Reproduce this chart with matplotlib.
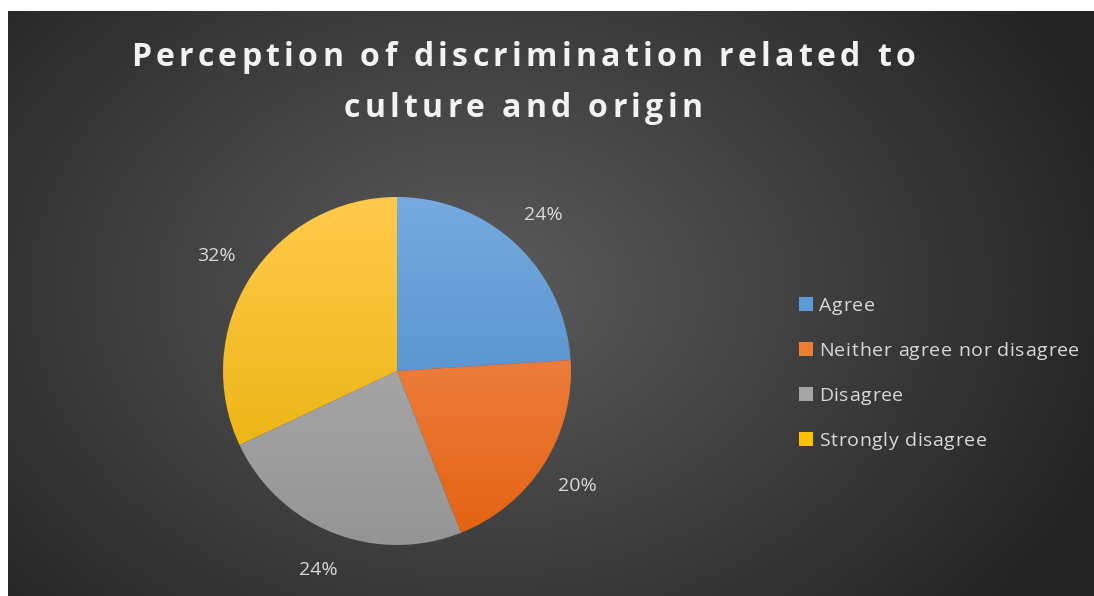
import numpy as np
import matplotlib
matplotlib.use("Agg")
import matplotlib.pyplot as plt
from matplotlib.patches import Rectangle
from matplotlib.colors import LinearSegmentedColormap, to_rgb
from matplotlib.font_manager import FontProperties, findfont, get_font
from matplotlib.ft2font import LoadFlags

categories = ["Agree", "Neither agree nor disagree", "Disagree", "Strongly disagree"]
values = [24, 20, 24, 32]
labels = ["24%", "20%", "24%", "32%"]
title_lines = ["Perception of discrimination related to", "culture and origin"]

colors_top = ["#75abdf", "#f39563", "#b4b4b4", "#ffca4c"]
colors_bot = ["#447fc0", "#e4610f", "#959595", "#e6ad00"]
colors_legend = ["#5b9bd5", "#ed7d31", "#a5a5a5", "#ffc000"]

W, H = 1094, 596
DPI = 100
fig = plt.figure(figsize=(W / DPI, H / DPI), dpi=DPI)
fig.patch.set_facecolor("white")


def advances(s, family, size, weight="normal"):
    fp = FontProperties(family=family, size=size, weight=weight)
    font = get_font(findfont(fp))
    font.set_size(size, DPI)
    return [font.load_char(ord(ch), flags=LoadFlags.NO_HINTING).linearHoriAdvance / 65536
            for ch in s]


def spaced_text(x_px, base_px, s, spacing_px, family, size, weight="normal",
                ha="left", color="white"):
    """Draw text char by char with extra letter spacing; pixel coords from top-left."""
    adv = advances(s, family, size, weight)
    total = sum(adv) + spacing_px * (len(s) - 1)
    x = x_px - total / 2 if ha == "center" else x_px
    for ch, a in zip(s, adv):
        if ch != " ":
            fig.text(x / W, 1 - base_px / H, ch, ha="left", va="baseline",
                     family=family, fontsize=size, fontweight=weight, color=color)
        x += a + spacing_px
    return total


# background panel with radial gradient
x0, y0 = 8, 11
bg = fig.add_axes([x0 / W, 0, (W - x0) / W, (H - y0) / H])
bg.set_axis_off()
nx, ny = 600, 330
xs = np.linspace(x0, W, nx)
ys = np.linspace(y0, H, ny)
X, Y = np.meshgrid(xs, ys)
cx, cy = 480, 290
d = np.sqrt(((X - cx) / 700) ** 2 + ((Y - cy) / 520) ** 2)
d = np.clip(d / 0.95, 0, 1)
c_in = np.array(to_rgb("#5c5c5c"))
c_out = np.array(to_rgb("#242424"))
img = c_in[None, None, :] * (1 - d[..., None]) + c_out[None, None, :] * d[..., None]
bg.imshow(img, extent=(0, 1, 0, 1), aspect="auto", origin="upper")
bg.set_xlim(0, 1)
bg.set_ylim(0, 1)

# pie
pcx, pcy, R = 397, 371, 174
S = 1.45
size = 2 * R * S
ax = fig.add_axes([(pcx - size / 2) / W, (H - pcy - size / 2) / H, size / W, size / H])
ax.set_axis_off()
wedges, texts = ax.pie(values, startangle=90, counterclock=False, radius=1,
                       labels=labels, labeldistance=1.23,
                       textprops=dict(color="#d9d9d9", fontsize=14, family="Open Sans"),
                       wedgeprops=dict(linewidth=0))
ax.set_xlim(-S, S)
ax.set_ylim(-S, S)
ax.set_aspect("equal")
grad = np.linspace(0, 1, 256)[:, None]
for w, ct, cb in zip(wedges, colors_top, colors_bot):
    cmap = LinearSegmentedColormap.from_list("g", [ct, cb])
    w.set_facecolor("none")
    im = ax.imshow(grad, cmap=cmap, extent=(-1, 1, -1, 1), aspect="auto",
                   origin="upper", zorder=1)
    im.set_clip_path(w)
for t in texts:
    t.set_ha("center")
    t.set_va("center")

# title
for line, yb in zip(title_lines, [66, 117]):
    spaced_text(523, yb, line, 4.3, "Open Sans", 23, weight="bold", ha="center",
                color="#f2f2f2")

# legend
lb = [311, 356, 401, 446]
for cat, col, yb in zip(categories, colors_legend, lb):
    fig.patches.append(Rectangle((799 / W, 1 - yb / H), 14 / W, 14 / H,
                                 transform=fig.transFigure, facecolor=col,
                                 edgecolor="none"))
    spaced_text(819, yb, cat, 0.65, "Open Sans", 14, color="#d9d9d9")

fig.savefig("out.png", dpi=DPI, facecolor="white")
